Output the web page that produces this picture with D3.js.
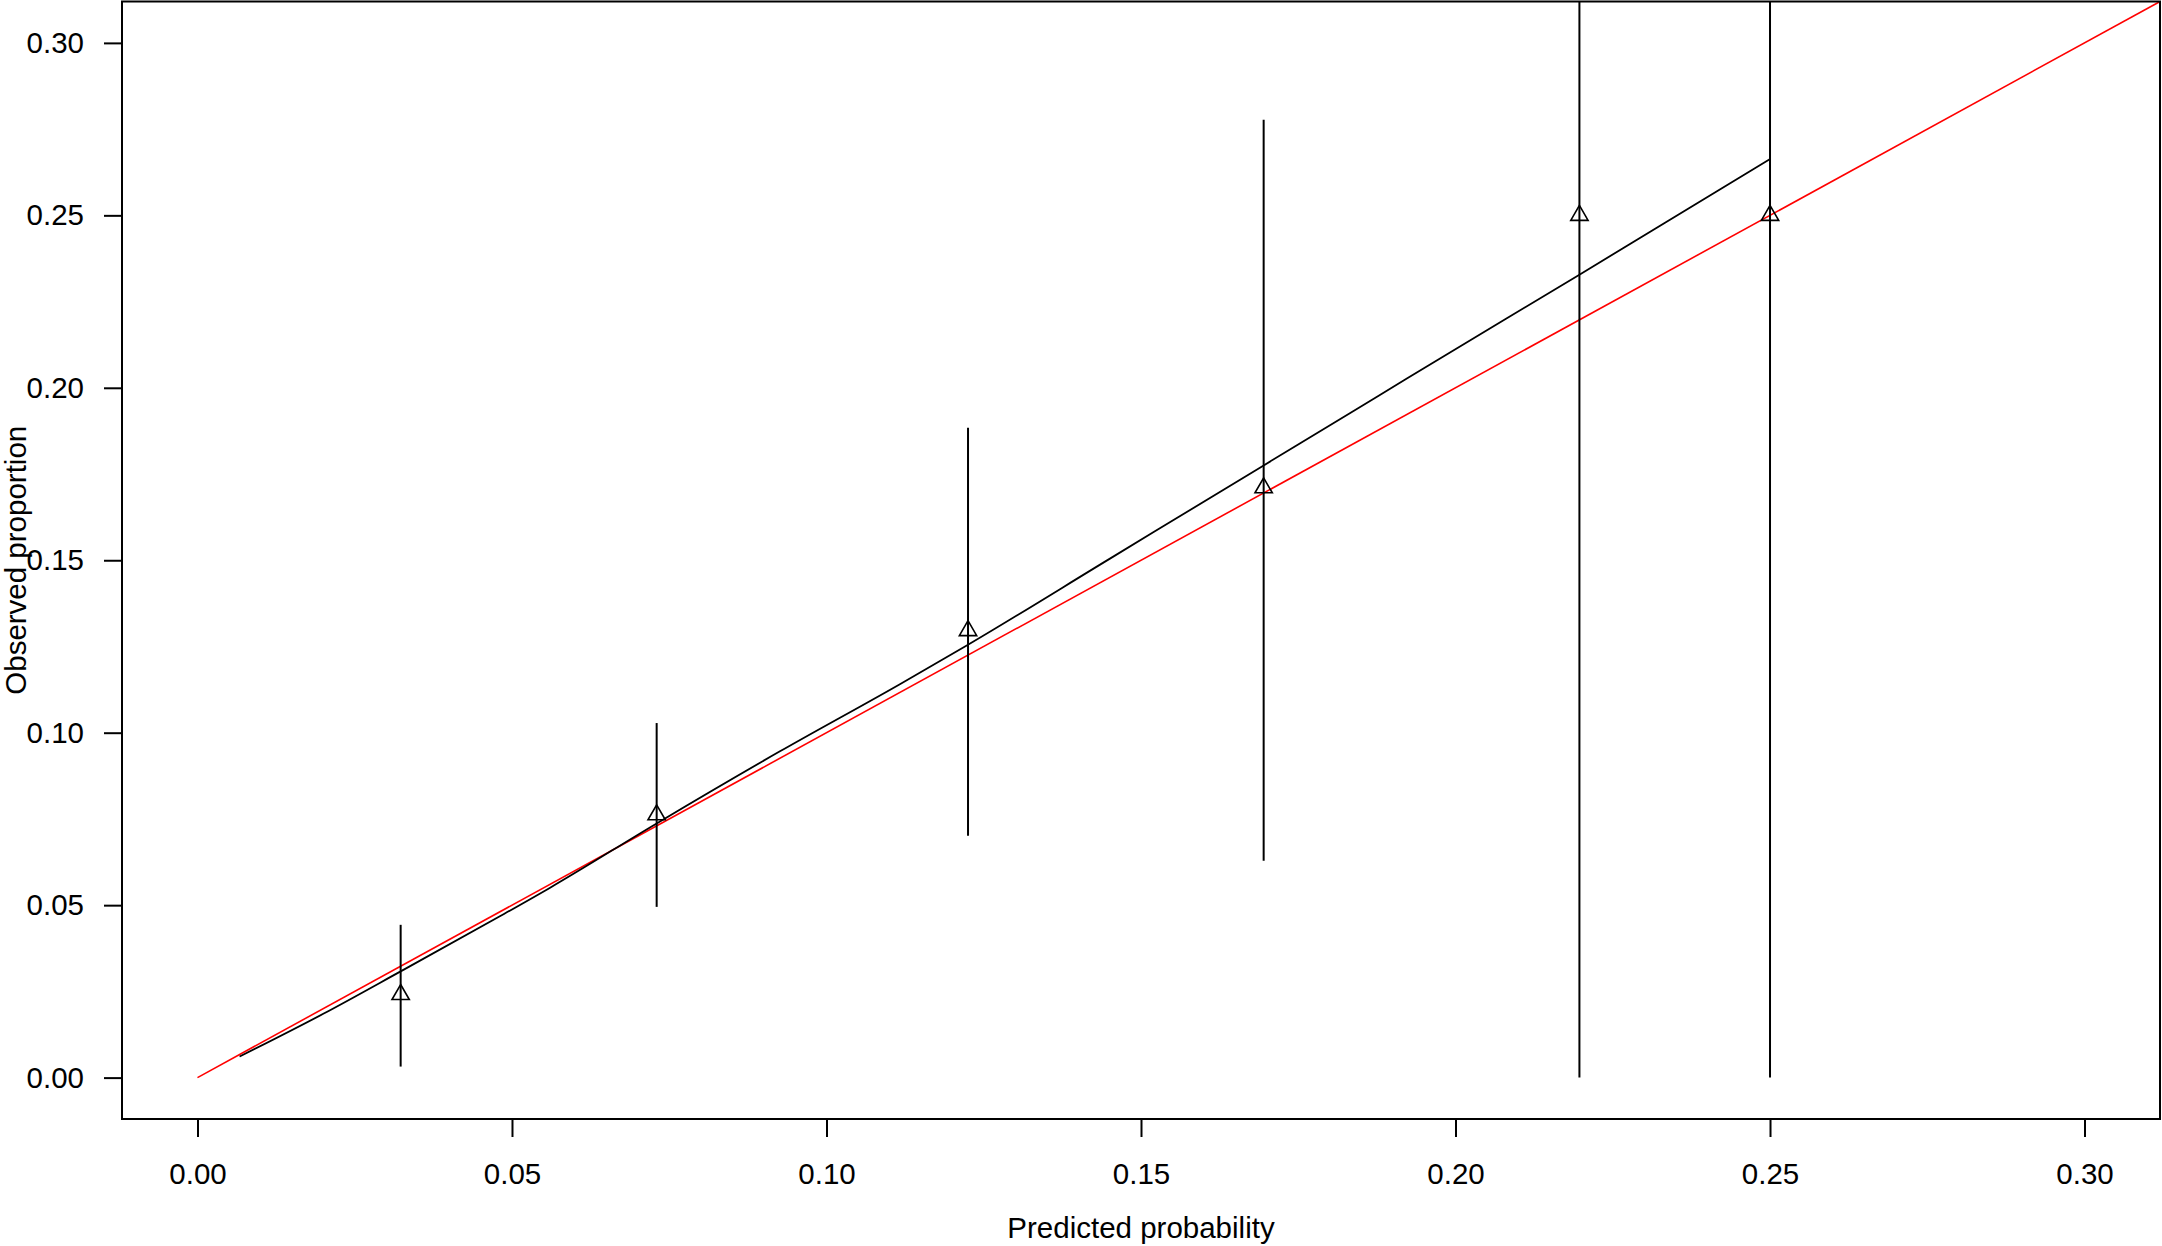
<!DOCTYPE html>
<html>
<head>
<meta charset="utf-8">
<script src="https://cdn.jsdelivr.net/npm/d3@7"></script>
<style>
  html, body { margin: 0; padding: 0; background: #fff; }
  svg { display: block; }
  text { font-family: "Liberation Sans", Arial, sans-serif; fill: #000; }
</style>
</head>
<body>
<svg id="chart" width="2162" height="1246"></svg>
<script>
// grouped points (mean predicted vs observed) with their intervals
const predicted = [0.0323, 0.0730, 0.1225, 0.1695, 0.2197, 0.2500];
const observed  = [0.0241, 0.0762, 0.1296, 0.1710, 0.2500, 0.2500];
const lower     = [0.0032, 0.0495, 0.0701, 0.0629, 0.0000, 0.0000];
const upper     = [0.0443, 0.1028, 0.1884, 0.2777, 0.8100, 0.8100];

// smoothed calibration curve
const curveX = [0.0067, 0.0200, 0.0323, 0.0480, 0.0560, 0.0730, 0.0926, 0.1116,
                0.1225, 0.1450, 0.1695, 0.1832, 0.1922, 0.2197, 0.2500];
const curveY = [0.0061, 0.0185, 0.0308, 0.0467, 0.0550, 0.0737, 0.0946, 0.1140,
                0.1255, 0.1504, 0.1775, 0.1926, 0.2026, 0.2328, 0.2663];

const ticks = [0, 0.05, 0.10, 0.15, 0.20, 0.25, 0.30];
const xTitle = 'Predicted probability';
const yTitle = 'Observed proportion';

const svg = d3.select('#chart');
// plot region edges (pixels)
const pL = 122, pR = 2160, pT = 1.5, pB = 1119;

// R pads the range by 4% on each side
const x = d3.scaleLinear().domain([-0.012, 0.312]).range([pL, pR]);
const y = d3.scaleLinear().domain([-0.012, 0.312]).range([pB, pT]);

svg.append('defs').append('clipPath').attr('id', 'plotclip')
   .append('rect')
   .attr('x', pL).attr('y', pT)
   .attr('width', pR - pL).attr('height', pB - pT);

const plot = svg.append('g').attr('clip-path', 'url(#plotclip)');

// ideal line
plot.append('line')
    .attr('x1', x(0)).attr('y1', y(0))
    .attr('x2', x(0.312)).attr('y2', y(0.312))
    .attr('stroke', '#ff0000')
    .attr('stroke-width', 1.6);

// smoothed curve
const curve = curveX.map((d, i) => [d, curveY[i]]);
plot.append('path')
    .datum(curve)
    .attr('fill', 'none')
    .attr('stroke', '#000')
    .attr('stroke-width', 1.8)
    .attr('d', d3.line().curve(d3.curveMonotoneX).x(d => x(d[0])).y(d => y(d[1])));

// error bars
const pts = predicted.map((p, i) => ({p, o: observed[i], lo: lower[i], hi: upper[i]}));
plot.selectAll('line.err')
    .data(pts)
    .join('line')
    .attr('class', 'err')
    .attr('x1', d => x(d.p)).attr('x2', d => x(d.p))
    .attr('y1', d => y(d.lo)).attr('y2', d => y(d.hi))
    .attr('stroke', '#000')
    .attr('stroke-width', 2);

// open triangles
plot.selectAll('path.pt')
    .data(pts)
    .join('path')
    .attr('class', 'pt')
    .attr('transform', d => `translate(${x(d.p)},${y(d.o)})`)
    .attr('d', d3.symbol(d3.symbolTriangle, 130))
    .attr('fill', 'none')
    .attr('stroke', '#000')
    .attr('stroke-width', 1.6);

// axes
const fmt = d3.format('.2f');
const xAxis = svg.append('g')
    .attr('transform', `translate(0,${pB})`)
    .call(d3.axisBottom(x).tickValues(ticks).tickFormat(fmt).tickSize(18).tickPadding(26));
const yAxis = svg.append('g')
    .attr('transform', `translate(${pL},0)`)
    .call(d3.axisLeft(y).tickValues(ticks).tickFormat(fmt).tickSize(18).tickPadding(20));

[xAxis, yAxis].forEach(a => {
  a.select('.domain').remove();
  a.selectAll('.tick line').attr('stroke', '#000').attr('stroke-width', 2);
  a.selectAll('.tick text')
   .style('font-family', '"Liberation Sans", Arial, sans-serif')
   .style('font-size', '29.5px')
   .attr('fill', '#000');
});

// frame
svg.append('rect')
   .attr('x', pL).attr('y', pT)
   .attr('width', pR - pL).attr('height', pB - pT)
   .attr('fill', 'none')
   .attr('stroke', '#000')
   .attr('stroke-width', 2);

// titles
svg.append('text')
   .attr('x', (pL + pR) / 2)
   .attr('y', 1238)
   .attr('text-anchor', 'middle')
   .style('font-size', '29.5px')
   .text(xTitle);

svg.append('text')
   .attr('transform', `translate(26,${(pT + pB) / 2}) rotate(-90)`)
   .attr('text-anchor', 'middle')
   .style('font-size', '29.5px')
   .text(yTitle);
</script>
</body>
</html>
